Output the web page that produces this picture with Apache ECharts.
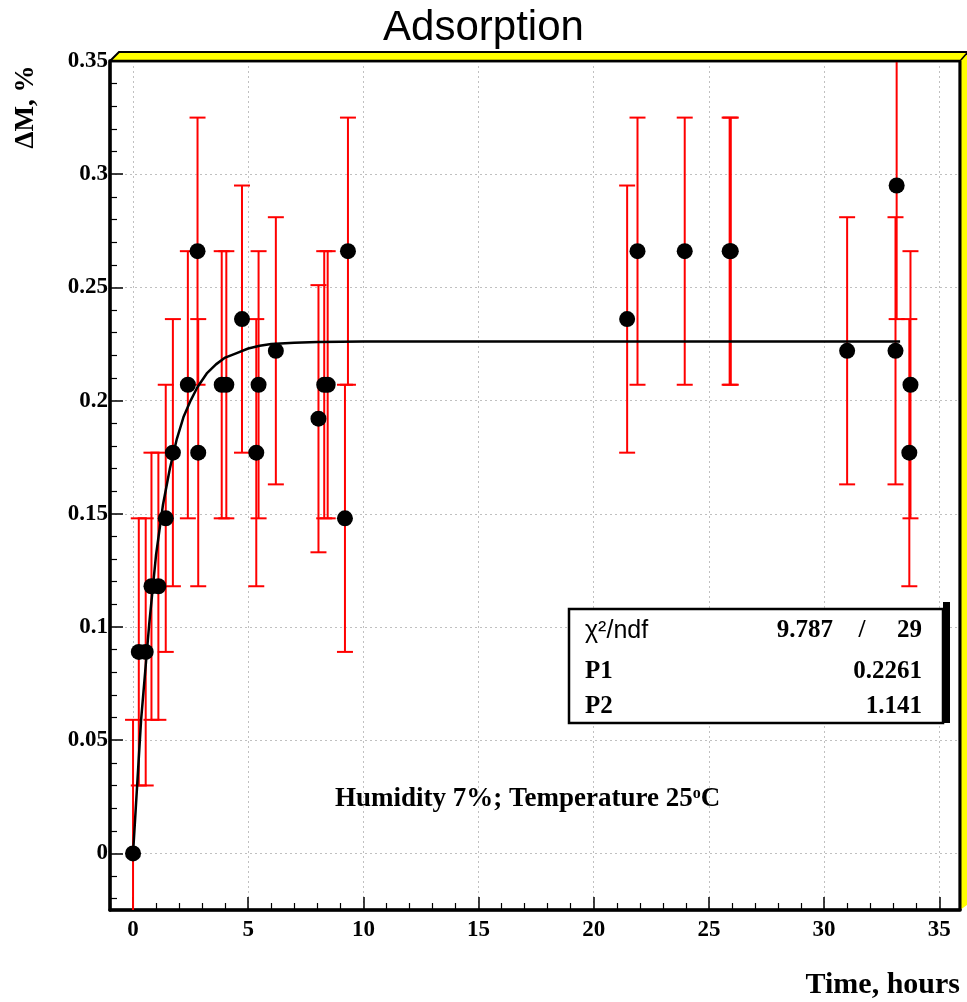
<!DOCTYPE html>
<html>
<head>
<meta charset="utf-8">
<script src="https://cdn.jsdelivr.net/npm/echarts@6/dist/echarts.min.js"></script>
<style>
  html, body { margin: 0; padding: 0; background: #fff; }
  #chart { width: 967px; height: 1002px; }
</style>
</head>
<body>
<div id="chart"></div>
<script>
// measured points (time in hours, mass gain in %)
var timeHours = [0, 0.25, 0.55, 0.8, 1.1, 1.42, 1.73, 2.38, 2.8, 2.83, 3.85, 4.05, 4.73, 5.35, 5.45, 6.2,
  8.05, 8.3, 8.45, 9.2, 9.33, 21.45, 21.9, 23.95, 25.9, 25.95, 31.0, 33.1, 33.15, 33.7, 33.75];
var deltaM = [0, 0.089, 0.089, 0.118, 0.118, 0.148, 0.177, 0.207, 0.266, 0.177, 0.207, 0.207, 0.236, 0.177, 0.207, 0.222,
  0.192, 0.207, 0.207, 0.148, 0.266, 0.236, 0.266, 0.266, 0.266, 0.266, 0.222, 0.222, 0.295, 0.177, 0.207];
var deltaErr = [0.059, 0.059, 0.059, 0.059, 0.059, 0.059, 0.059, 0.059, 0.059, 0.059, 0.059, 0.059, 0.059, 0.059, 0.059, 0.059,
  0.059, 0.059, 0.059, 0.059, 0.059, 0.059, 0.059, 0.059, 0.059, 0.059, 0.059, 0.059, 0.059, 0.059, 0.059];

// fitted curve
var fitTime = [0, 0.35, 0.7, 1.0, 1.3, 1.6, 1.9, 2.2, 2.5, 2.8, 3.2, 3.6, 4.0, 4.5, 5.0, 5.5, 6.0, 7.0, 8.0, 9.0, 10, 12, 15, 20, 25, 30, 33.3];
var fitValue = [0, 0.059, 0.101, 0.132, 0.154, 0.170, 0.183, 0.193, 0.200, 0.206, 0.212, 0.216, 0.219, 0.221, 0.223, 0.2242, 0.2250,
  0.2256, 0.2259, 0.2260, 0.2261, 0.2261, 0.2261, 0.2261, 0.2261, 0.2261, 0.2261];

var xTicks = [0, 5, 10, 15, 20, 25, 30, 35];
var xMinorTicks = [-1, 1, 2, 3, 4, 6, 7, 8, 9, 11, 12, 13, 14, 16, 17, 18, 19, 21, 22, 23, 24, 26, 27, 28, 29, 31, 32, 33, 34];
var yTicks = [0, 0.05, 0.1, 0.15, 0.2, 0.25, 0.3, 0.35];
var yTickLabels = ['0', '0.05', '0.1', '0.15', '0.2', '0.25', '0.3', '0.35'];
var yMinorTicks = [-0.02, -0.01, 0.01, 0.02, 0.03, 0.04, 0.06, 0.07, 0.08, 0.09, 0.11, 0.12, 0.13, 0.14,
  0.16, 0.17, 0.18, 0.19, 0.21, 0.22, 0.23, 0.24, 0.26, 0.27, 0.28, 0.29, 0.31, 0.32, 0.33, 0.34];

var serif = '"Liberation Serif", "Times New Roman", serif';
var sans = '"Liberation Sans", Arial, sans-serif';
var gridStyle = { color: '#c0c0c0', type: [2, 3], width: 1 };

var chart = echarts.init(document.getElementById('chart'));

var option = {
  animation: false,
  backgroundColor: '#fff',
  title: {
    text: 'Adsorption',
    left: 'center',
    top: 2,
    textStyle: { fontFamily: sans, fontSize: 42, fontWeight: 'normal', color: '#000' }
  },
  grid: {
    left: 110, right: 7, top: 61, bottom: 92,
    show: true, borderColor: '#000', borderWidth: 2.5, backgroundColor: '#fff'
  },
  xAxis: [{
    type: 'value', min: -1, max: 35.9, position: 'bottom',
    axisLine: { show: true, onZero: false, lineStyle: { color: '#000', width: 3.5 } },
    axisTick: { show: true, inside: true, length: 13, customValues: xTicks, lineStyle: { color: '#000', width: 1.5 } },
    axisLabel: {
      customValues: xTicks, margin: 9, color: '#000',
      fontFamily: serif, fontSize: 23, fontWeight: 'bold'
    },
    splitLine: { show: true, lineStyle: gridStyle },
    minorTick: { show: false }
  }, {
    type: 'value', min: -1, max: 35.9, position: 'bottom',
    axisLine: { show: false, onZero: false },
    axisTick: { show: true, inside: true, length: 7, customValues: xMinorTicks, lineStyle: { color: '#000', width: 1.2 } },
    axisLabel: { show: false },
    splitLine: { show: false }
  }],
  yAxis: [{
    type: 'value', min: -0.025, max: 0.35, position: 'left',
    axisLine: { show: true, onZero: false, lineStyle: { color: '#000', width: 3.5 } },
    axisTick: { show: true, inside: true, length: 13, customValues: yTicks, lineStyle: { color: '#000', width: 1.5 } },
    axisLabel: {
      customValues: yTicks, margin: 2, color: '#000',
      fontFamily: serif, fontSize: 23, fontWeight: 'bold',
      formatter: function (v) {
        var i = yTicks.indexOf(v);
        return i >= 0 ? yTickLabels[i] : '';
      }
    },
    splitLine: { show: true, lineStyle: gridStyle },
    minorTick: { show: false }
  }, {
    type: 'value', min: -0.025, max: 0.35, position: 'left',
    axisLine: { show: false, onZero: false },
    axisTick: { show: true, inside: true, length: 7, customValues: yMinorTicks, lineStyle: { color: '#000', width: 1.2 } },
    axisLabel: { show: false },
    splitLine: { show: false }
  }],
  series: [{
    // error bars
    type: 'custom',
    clip: true,
    z: 2,
    data: timeHours.map(function (t, i) {
      return [t, deltaM[i] - deltaErr[i], deltaM[i] + deltaErr[i]];
    }),
    renderItem: function (params, api) {
      var x = api.value(0);
      var lo = api.coord([x, api.value(1)]);
      var hi = api.coord([x, api.value(2)]);
      var hw = 8;
      var st = { stroke: '#ff0000', lineWidth: 2 };
      return {
        type: 'group',
        children: [
          { type: 'line', shape: { x1: hi[0], y1: hi[1], x2: lo[0], y2: lo[1] }, style: st },
          { type: 'line', shape: { x1: hi[0] - hw, y1: hi[1], x2: hi[0] + hw, y2: hi[1] }, style: st },
          { type: 'line', shape: { x1: lo[0] - hw, y1: lo[1], x2: lo[0] + hw, y2: lo[1] }, style: st }
        ]
      };
    }
  }, {
    // fit
    type: 'line',
    z: 3,
    showSymbol: false,
    smooth: false,
    data: fitTime.map(function (t, i) { return [t, fitValue[i]]; }),
    lineStyle: { color: '#000', width: 2.5 }
  }, {
    type: 'scatter',
    z: 4,
    symbol: 'circle',
    symbolSize: 16,
    data: timeHours.map(function (t, i) { return [t, deltaM[i]]; }),
    itemStyle: { color: '#000', opacity: 1 }
  }],
  graphic: [
    // raised yellow frame on top and right
    { type: 'polygon', z: 10, shape: { points: [[110, 61], [119, 52], [967, 52], [967, 905], [960, 910], [960, 61]] },
      style: { fill: '#ffff00' } },
    { type: 'polyline', z: 11, shape: { points: [[110, 61], [119, 52], [967, 52]] },
      style: { stroke: '#000', lineWidth: 2, fill: null } },
    { type: 'line', z: 11, shape: { x1: 110, y1: 61, x2: 960, y2: 61 }, style: { stroke: '#000', lineWidth: 2.5 } },
    { type: 'line', z: 11, shape: { x1: 960, y1: 61, x2: 960, y2: 910 }, style: { stroke: '#000', lineWidth: 3 } },
    { type: 'line', z: 11, shape: { x1: 960, y1: 61, x2: 967, y2: 53 }, style: { stroke: '#000', lineWidth: 1.5 } },

    // stats box
    { type: 'rect', z: 20, shape: { x: 943, y: 602, width: 7, height: 121 }, style: { fill: '#000' } },
    { type: 'rect', z: 21, shape: { x: 569, y: 609, width: 374, height: 114 },
      style: { fill: '#fff', stroke: '#000', lineWidth: 2.5 } },
    { type: 'text', z: 22, x: 585, y: 631,
      style: { text: 'χ²/ndf', verticalAlign: 'middle', fontFamily: sans, fontSize: 25, fill: '#000' } },
    { type: 'text', z: 22, x: 833, y: 631,
      style: { text: '9.787', align: 'right', verticalAlign: 'middle', fontFamily: serif, fontSize: 25, fontWeight: 'bold', fill: '#000' } },
    { type: 'text', z: 22, x: 862, y: 631,
      style: { text: '/', align: 'center', verticalAlign: 'middle', fontFamily: serif, fontSize: 25, fontWeight: 'bold', fill: '#000' } },
    { type: 'text', z: 22, x: 922, y: 631,
      style: { text: '29', align: 'right', verticalAlign: 'middle', fontFamily: serif, fontSize: 25, fontWeight: 'bold', fill: '#000' } },
    { type: 'text', z: 22, x: 585, y: 672,
      style: { text: 'P1', verticalAlign: 'middle', fontFamily: serif, fontSize: 25, fontWeight: 'bold', fill: '#000' } },
    { type: 'text', z: 22, x: 922, y: 672,
      style: { text: '0.2261', align: 'right', verticalAlign: 'middle', fontFamily: serif, fontSize: 25, fontWeight: 'bold', fill: '#000' } },
    { type: 'text', z: 22, x: 585, y: 707,
      style: { text: 'P2', verticalAlign: 'middle', fontFamily: serif, fontSize: 25, fontWeight: 'bold', fill: '#000' } },
    { type: 'text', z: 22, x: 922, y: 707,
      style: { text: '1.141', align: 'right', verticalAlign: 'middle', fontFamily: serif, fontSize: 25, fontWeight: 'bold', fill: '#000' } },

    // conditions
    { type: 'text', z: 22, x: 335, y: 799,
      style: {
        text: '{b|Humidity 7%; Temperature 25}{s|o}{b|C}', verticalAlign: 'middle', fill: '#000',
        rich: {
          b: { fontFamily: serif, fontSize: 27, fontWeight: 'bold', fill: '#000' },
          s: { fontFamily: serif, fontSize: 16, fontWeight: 'bold', fill: '#000', verticalAlign: 'bottom', padding: [0, 0, 11, 0] }
        }
      } },

    // axis titles
    { type: 'text', z: 22, x: 26, y: 107, rotation: Math.PI / 2,
      style: { text: 'ΔM, %', align: 'center', verticalAlign: 'middle', fontFamily: serif, fontSize: 27, fontWeight: 'bold', fill: '#000' } },
    { type: 'text', z: 22, x: 960, y: 985,
      style: { text: 'Time, hours', align: 'right', verticalAlign: 'middle', fontFamily: serif, fontSize: 30, fontWeight: 'bold', fill: '#000' } }
  ]
};

chart.setOption(option);
</script>
</body>
</html>
